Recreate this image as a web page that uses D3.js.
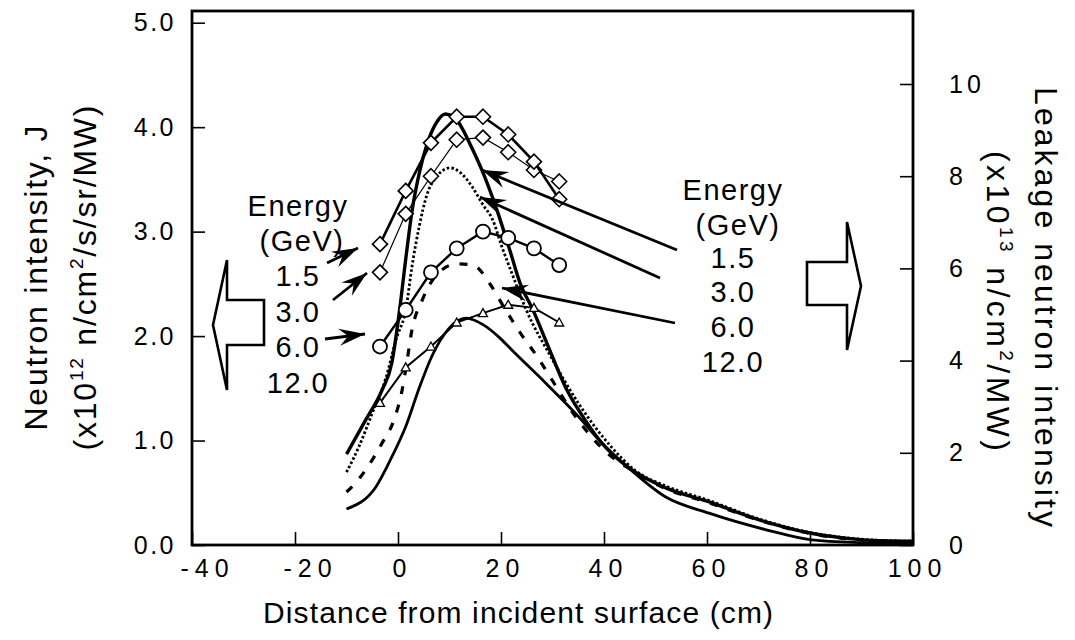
<!DOCTYPE html>
<html><head><meta charset="utf-8">
<script src="https://cdn.jsdelivr.net/npm/d3@7"></script>
<style>
body{margin:0;background:#fff;}
svg{display:block;}
text{font-family:"Liberation Sans",Arial,Helvetica,sans-serif;fill:#000;}
</style></head><body>
<svg id="c" width="1075" height="640"></svg>
<script>
// ---------- data ----------
const xTicks = [-40, -20, 0, 20, 40, 60, 80, 100];
const yLeftTicks = [0, 1, 2, 3, 4, 5];
const yRightTicks = [0, 2, 4, 6, 8, 10];
const energyLabels = ["1.5", "3.0", "6.0", "12.0"];

// measured neutron intensity J (left axis), x10^12 n/cm2/s/sr/MW
const measX = [-3.5, 1.5, 6.4, 11.4, 16.5, 21.4, 26.4, 31.3];
const j15  = [2.88, 3.39, 3.85, 4.10, 4.10, 3.93, 3.67, 3.31];
const j30  = [2.61, 3.17, 3.53, 3.88, 3.90, 3.76, 3.59, 3.48];
const j60  = [1.90, 2.25, 2.61, 2.84, 3.00, 2.94, 2.84, 2.68];
const j120 = [1.36, 1.70, 1.90, 2.13, 2.22, 2.30, 2.27, 2.13];

// leakage neutron intensity (right axis), x10^13 n/cm2/MW
const leakX15 = [-10, -6.3, -3.1, -1.2, 0.2, 1.5, 2.8, 4.2, 5.6, 7.4, 9.2, 11, 12.4, 14.4, 16.3, 19.2, 21.7, 23.7, 26.2, 28.9, 32.8, 36.7, 39.6, 45, 52, 60, 70, 80, 86, 92, 100];
const leak15  = [1.97, 2.71, 3.36, 3.95, 5.0, 6.2, 7.3, 8.1, 8.68, 9.15, 9.35, 9.28, 9.05, 8.6, 8.13, 7.27, 6.40, 5.68, 5.10, 4.38, 3.36, 2.65, 2.21, 1.66, 1.24, 0.95, 0.55, 0.26, 0.16, 0.10, 0.08];
const leakX30 = [-10, -7.6, -5.0, -2.3, -0.4, 1.6, 2.7, 4.1, 5.6, 7.4, 10.1, 12.4, 14.4, 16.5, 18.4, 20.2, 22.1, 24.9, 29.7, 35.0, 41.4, 46, 52, 60, 70, 80, 86, 92, 100];
const leak30  = [1.58, 2.13, 2.86, 3.64, 4.45, 5.16, 6.03, 6.90, 7.59, 7.98, 8.18, 8.05, 7.77, 7.38, 7.05, 6.46, 5.90, 5.10, 4.08, 3.08, 2.13, 1.62, 1.28, 0.98, 0.57, 0.27, 0.17, 0.11, 0.08];
const leakX60 = [-10, -8.3, -5.6, -3.1, -0.8, 0.8, 1.7, 2.7, 4.7, 8, 11.5, 14.6, 18, 20.3, 24, 27.2, 29.9, 34, 40, 46, 52, 60, 70, 80, 86, 92, 100];
const leak60  = [1.15, 1.34, 1.74, 2.21, 2.71, 3.36, 3.95, 4.66, 5.31, 5.92, 6.10, 6.07, 5.64, 5.21, 4.56, 4.06, 3.58, 2.86, 2.06, 1.58, 1.22, 0.93, 0.54, 0.25, 0.15, 0.10, 0.07];
const leakX120 = [-10, -4.3, -1.2, 1.6, 4.1, 6.6, 9.9, 13.2, 16.5, 19.6, 22.1, 28.7, 35.1, 39, 44.3, 52, 60.4, 71.5, 80.4, 90, 100];
const leak120  = [0.78, 1.26, 1.91, 2.6, 3.4, 4.1, 4.7, 4.92, 4.78, 4.51, 4.23, 3.51, 2.78, 2.28, 1.72, 1.04, 0.69, 0.33, 0.11, 0.05, 0.03];

// ---------- drawing ----------
const svg = d3.select("#c");
const X0 = 192, X1 = 913, Y0 = 545, YT = 11;
const x  = d3.scaleLinear().domain([-40, 100]).range([X0, X1]);
const yL = d3.scaleLinear().domain([0, 5]).range([Y0, 22.7]);
const yR = d3.scaleLinear().domain([0, 10]).range([Y0, 84]);

// arrowhead marker
const defs = svg.append("defs");
defs.append("marker").attr("id", "ah").attr("viewBox", "-28 -10 30 20")
  .attr("refX", 0).attr("refY", 0).attr("markerWidth", 30).attr("markerHeight", 20)
  .attr("markerUnits", "userSpaceOnUse").attr("orient", "auto")
  .append("path").attr("d", "M0,0L-26,-8.5L-17,0L-26,8.5Z").attr("fill", "#000");

// frame
svg.append("rect").attr("x", X0).attr("y", YT).attr("width", X1 - X0).attr("height", Y0 - YT)
  .attr("fill", "none").attr("stroke", "#000").attr("stroke-width", 2.8);

function styleAxis(g, fs, ls) {
  g.select(".domain").remove();
  g.selectAll(".tick line").attr("stroke", "#000").attr("stroke-width", 1.6);
  g.selectAll(".tick text").style("font-size", fs + "px").style("letter-spacing", ls + "px")
    .style("font-family", "'Liberation Sans',Arial,sans-serif");
}
svg.append("g").attr("transform", `translate(${X0},0)`)
  .call(d3.axisLeft(yL).tickValues(yLeftTicks).tickFormat(d3.format(".1f")).tickSize(-13).tickPadding(16))
  .call(g => styleAxis(g, 25, 2.5));
svg.append("g").attr("transform", `translate(0,${Y0})`)
  .call(d3.axisBottom(x).tickValues(xTicks).tickFormat(d => d < 0 ? "-" + Math.abs(d) : d).tickSize(-13).tickPadding(14))
  .call(g => styleAxis(g, 25, 6))
  .call(g => g.selectAll(".tick text").attr("dx", d => d < 0 ? "15px" : "4px"));
svg.append("g").attr("transform", `translate(${X1},0)`)
  .call(d3.axisRight(yR).tickValues(yRightTicks).tickSize(-13).tickPadding(36))
  .call(g => styleAxis(g, 25, 4));

// leakage curves (right axis)
const lineR = d3.line().x(d => x(d[0])).y(d => yR(d[1])).curve(d3.curveMonotoneX);
const zip = (a, b) => a.map((v, i) => [v, b[i]]);
svg.append("path").attr("d", lineR(zip(leakX120, leak120))).attr("fill", "none")
  .attr("stroke", "#000").attr("stroke-width", 2.8);
svg.append("path").attr("d", lineR(zip(leakX60, leak60))).attr("fill", "none")
  .attr("stroke", "#000").attr("stroke-width", 3.2).attr("stroke-dasharray", "8,11");
svg.append("path").attr("d", lineR(zip(leakX30, leak30))).attr("fill", "none")
  .attr("stroke", "#000").attr("stroke-width", 2.8).attr("stroke-dasharray", "2.5,2.2");
svg.append("path").attr("d", lineR(zip(leakX15, leak15))).attr("fill", "none")
  .attr("stroke", "#000").attr("stroke-width", 3.4);

// measured series (left axis)
const lineL = d3.line().x(d => x(d[0])).y(d => yL(d[1]));
const series = [
  {v: j120, w: 2.0, m: "tri"},
  {v: j60,  w: 2.4, m: "circ"},
  {v: j30,  w: 1.2, m: "dia"},
  {v: j15,  w: 2.6, m: "dia"}
];
series.forEach(s => {
  const pts = zip(measX, s.v);
  svg.append("path").attr("d", lineL(pts)).attr("fill", "none").attr("stroke", "#000").attr("stroke-width", s.w);
  const g = svg.append("g");
  if (s.m === "circ") {
    g.selectAll("circle").data(pts).join("circle").attr("cx", d => x(d[0])).attr("cy", d => yL(d[1]))
      .attr("r", 7).attr("fill", "#fff").attr("stroke", "#000").attr("stroke-width", 1.8);
  } else {
    const p = s.m === "dia" ? "M0,-7.5L7.5,0L0,7.5L-7.5,0Z" : "M0,-4.5L4.5,3.5L-4.5,3.5Z";
    g.selectAll("path").data(pts).join("path").attr("d", p)
      .attr("transform", d => `translate(${x(d[0])},${yL(d[1])})`)
      .attr("fill", "#fff").attr("stroke", "#000").attr("stroke-width", s.m === "dia" ? 1.6 : 1.3);
  }
});

// hollow direction arrows
const poly = pts => "M" + pts.map(p => p.join(",")).join("L") + "Z";
svg.append("path").attr("d", poly([[213,325],[227,260],[227,300],[264,300],[264,345],[227,345],[227,390]]))
  .attr("fill", "#fff").attr("stroke", "#000").attr("stroke-width", 2.6).attr("stroke-linejoin", "miter");
svg.append("path").attr("d", poly([[807,262],[847,262],[847,222],[861,286],[847,350],[847,305],[807,305]]))
  .attr("fill", "#fff").attr("stroke", "#000").attr("stroke-width", 2.6);

// energy labels
function energyBlock(cx, ys, gevShift) {
  const lines = ["Energy", "(GeV)"].concat(energyLabels);
  lines.forEach((t, i) => {
    svg.append("text").attr("x", cx + (i === 1 ? gevShift : 0)).attr("y", ys[i]).attr("text-anchor", "middle")
      .style("font-size", "29px").style("letter-spacing", "1.5px").text(t);
  });
}
energyBlock(298, [216, 251, 286, 321.5, 357, 392.5], 4);
energyBlock(733, [200, 235, 268, 302, 337, 372], 5);

// pointer arrows
const ptr = [[[327,263],[358,248]], [[333,300],[367,273]], [[325,339],[365,334]],
             [[677,250],[482,170]], [[660,278],[480,197]], [[675,323],[502,288]]];
ptr.forEach(p => svg.append("line").attr("x1", p[0][0]).attr("y1", p[0][1]).attr("x2", p[1][0]).attr("y2", p[1][1])
  .attr("stroke", "#000").attr("stroke-width", 2.8).attr("marker-end", "url(#ah)"));

// axis titles
svg.append("text").attr("x", 518).attr("y", 623).attr("text-anchor", "middle")
  .attr("textLength", 510).attr("lengthAdjust", "spacing")
  .style("font-size", "30px").text("Distance from incident surface (cm)");

function supTitle(parent, y, len, parts) {
  const t = parent.append("text").attr("x", 0).attr("y", y).attr("text-anchor", "middle")
    .attr("textLength", len).attr("lengthAdjust", "spacing").style("font-size", "32px");
  parts.forEach(([s, sup]) => {
    if (sup) t.append("tspan").attr("dy", -13).style("font-size", "19px").text(s);
    else t.append("tspan").attr("dy", t.selectAll("tspan").size() ? 13 : 0).text(s);
  });
  return t;
}
const lt = svg.append("g").attr("transform", "translate(0,278) rotate(-90)");
lt.append("text").attr("x", 0).attr("y", 47).attr("text-anchor", "middle")
  .attr("textLength", 305).attr("lengthAdjust", "spacing")
  .style("font-size", "32px").text("Neutron intensity, J");
supTitle(lt, 83, 345, [["(x10", false], ["12", true], [" n/cm", false], ["2", true], ["/s/sr/MW)", false]]);

const rt = svg.append("g").attr("transform", "translate(1075,307) rotate(90)");
rt.append("text").attr("x", 0).attr("y", 40).attr("text-anchor", "middle")
  .attr("textLength", 440).attr("lengthAdjust", "spacing")
  .style("font-size", "32px").text("Leakage neutron intensity");
const rt2 = supTitle(rt, 75, 300, [["(x10", false], ["13", true], [" n/cm", false], ["2", true], ["/MW)", false]]);
rt2.attr("x", -6);
</script>
</body></html>
